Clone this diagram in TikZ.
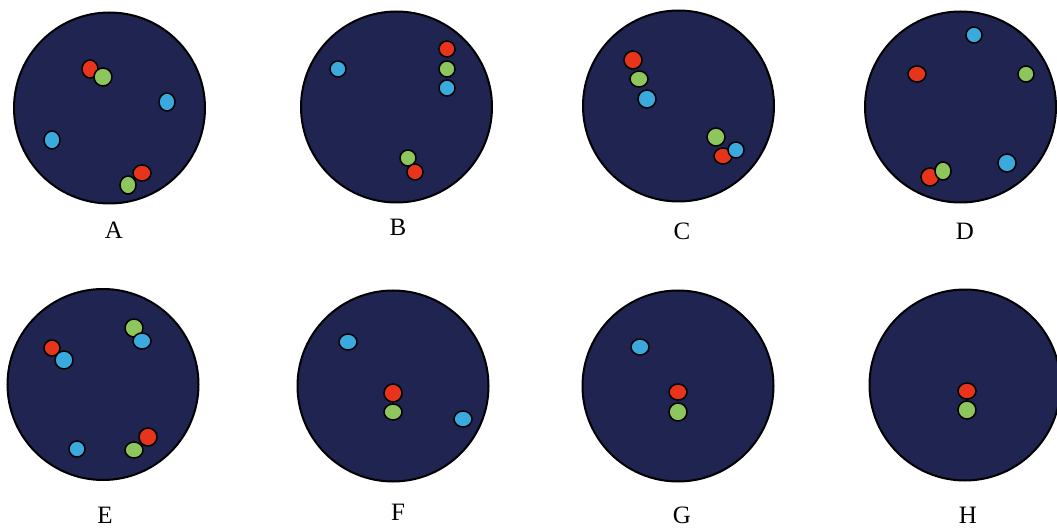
\documentclass[tikz,border=0pt]{standalone}
\usepackage{fontspec}
\setmainfont{Liberation Serif}
\definecolor{navy}{HTML}{1F2450}
\definecolor{ruby}{HTML}{E8341C}
\definecolor{leaf}{HTML}{8CC65C}
\definecolor{sky}{HTML}{3AA9DE}

\begin{document}
\begin{tikzpicture}[
  x=1pt,y=-1pt,
  plate/.style={circle, draw=black, fill=navy, line width=2pt, minimum size=191pt, inner sep=0pt},
  tag/.style={font=\fontsize{25}{29}\selectfont, text=black, inner sep=0pt},
  dot/.style={draw=black, line width=1.5pt}
]
\useasboundingbox (0,0) rectangle (1057,529);

% plates and their letters
\foreach \n/\cx/\cy/\lx/\ly in {A/109.5/108/114/230, B/396.5/107/398/227,
  C/678.5/106/682/231, D/960.5/107/965/231, E/103/384.5/105/515,
  F/393/386/398/512, G/678/386/682/515, H/965/385/968/515}{
  \node[plate] (plate\n) at (\cx,\cy) {};
  \node[tag] (tag\n) at (\lx,\ly) {\n};
}

% particles: x/y/x radius/y radius/colour (later ones lie on top)
\foreach \x/\y/\rx/\ry/\c in {
  % A
  90/69/8/9/ruby, 103/77/9/9/leaf, 167/102/8/9/sky, 52/140/8/9/sky,
  142/173/9/8/ruby, 128/185/8/9/leaf,
  % B
  338/69/8/8/sky, 447/49/8/8/ruby, 447/69/8/8/leaf, 447/88/8/8/sky,
  408/158/8/8/leaf, 415/172/8/8/ruby,
  % C
  633/60/9/9/ruby, 639/79/9/8/leaf, 647/99/9/9/sky,
  716/137/9/9/leaf, 723/156/9/8/ruby, 736/150/8/8/sky,
  % D
  974/35/8/8/sky, 917/74/9/8/ruby, 1026/74/8/8/leaf, 1007/163/9/9/sky,
  930/177/9/9/ruby, 943/171/8/9/leaf,
  % E
  134/328/9/9/leaf, 142/341/9/8/sky, 52/348/8/8/ruby, 64/360/9/9/sky,
  134/450/9/8/leaf, 148/437/9/9/ruby, 77/449/8/8/sky,
  % F
  348/342/9/8/sky, 393/393/9/9/ruby, 393/412/9/8/leaf, 463/419/9/8/sky,
  % G
  640/347/9/8/sky, 678/392/9/8/ruby, 678/412/9/9/leaf,
  % H
  967/391/9/8/ruby, 967/410/9/9/leaf}{
  \draw[dot, fill=\c] (\x,\y) ellipse (\rx pt and \ry pt);
}
\end{tikzpicture}
\end{document}
